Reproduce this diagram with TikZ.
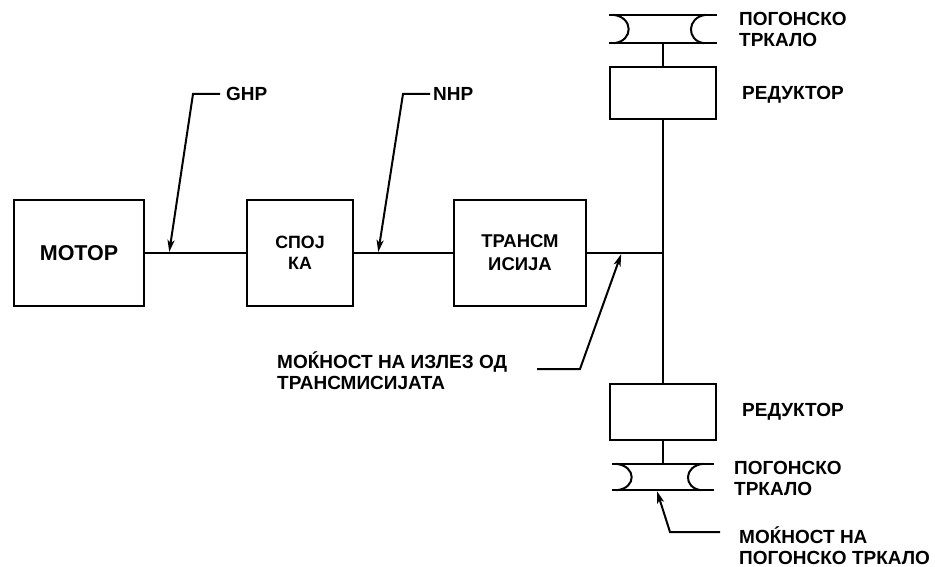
\documentclass[tikz,border=0pt]{standalone}
\usepackage{fontspec}
\setmainfont{Liberation Sans}
\usetikzlibrary{calc,arrows.meta}
\newcommand{\mypulley}[1]{%
  \draw[ln] (#1.north west) -- (#1.north east);
  \draw[ln] (#1.south west) -- (#1.south east);
  \draw[ln] ([xshift=4pt]#1.north west) .. controls ([xshift=25pt,yshift=-2pt]#1.north west) and ([xshift=25pt,yshift=2pt]#1.south west) .. ([xshift=5pt]#1.south west);
  \draw[ln] ([xshift=-11pt]#1.north east) .. controls ([xshift=-31pt,yshift=-2pt]#1.north east) and ([xshift=-31pt,yshift=2pt]#1.south east) .. ([xshift=-13pt]#1.south east);
}
\begin{document}
\begin{tikzpicture}[x=1pt,y=-1pt,
  ln/.style={line width=2pt},
  blk/.style={draw,line width=2pt,inner sep=0pt,align=center,font=\bfseries\fontsize{17.8}{21}\selectfont},
  lab/.style={anchor=west,align=left,inner sep=0pt,font=\bfseries\fontsize{19}{21}\selectfont},
  wheelnode/.style={inner sep=0pt,minimum width=108pt,minimum height=28pt},
  arr/.style={line width=2pt,-{Stealth[length=12pt,width=7pt,inset=3pt]}}]
\useasboundingbox (0,0) rectangle (935,567);
% blocks
\node[blk,minimum width=130pt,minimum height=106pt,font=\bfseries\fontsize{21.5}{24}\selectfont] (motor) at (79,253) {МОТОР};
\node[blk,minimum width=106pt,minimum height=106pt] (spojka) at (300,253) {СПОЈ\\КА};
\node[blk,minimum width=132pt,minimum height=106pt,font=\bfseries\fontsize{18.5}{23}\selectfont] (trans) at (520,253) {ТРАНСМ\\ИСИЈА};
\node[blk,minimum width=106pt,minimum height=52pt] (red1) at (663,93) {};
\node[blk,minimum width=106pt,minimum height=56pt] (red2) at (663,412) {};
\node[wheelnode] (w1) at (663,29) {};
\node[wheelnode,minimum width=102pt,minimum height=26pt] (w2) at (663,477) {};
\mypulley{w1}
\mypulley{w2}
\coordinate (J) at (663,253);
% shafts
\draw[ln] (motor.east) -- (spojka.west);
\draw[ln] (spojka.east) -- (trans.west);
\draw[ln] (trans.east) -- (J);
\draw[ln] (w1.south) -- (red1.north);
\draw[ln] (red1.south) -- (red2.north);
\draw[ln] (red2.south) -- (w2.north);
% labels
\node[lab] (ghp) at (226,94) {GHP};
\node[lab] (nhp) at (433,94) {NHP};
\node[lab] (lw1) at (739,29) {ПОГОНСКО\\ТРКАЛО};
\node[lab] (lr1) at (742,95) {РЕДУКТОР};
\node[lab] (lr2) at (742,412) {РЕДУКТОР};
\node[lab] (lw2) at (734,478) {ПОГОНСКО\\ТРКАЛО};
\node[lab] (lout) at (277,371) {МОЌНОСТ НА ИЗЛЕЗ ОД\\ТРАНСМИСИЈАТА};
\node[lab] (lwp) at (739,546) {МОЌНОСТ НА\\ПОГОНСКО ТРКАЛО};
% leader arrows
\coordinate (g1) at (220,94);
\coordinate (g2) at (193,94);
\coordinate (n1) at (430,94);
\coordinate (n2) at (403,94);
\coordinate (o1) at (537,369);
\coordinate (o2) at (580,369);
\coordinate (p1) at (720,532);
\coordinate (p2) at (670,532);
\draw[arr] (g1) -- (g2) -- ($(motor.east)!0.24!(spojka.west)+(0,-1)$);
\draw[arr] (n1) -- (n2) -- ($(spojka.east)!0.245!(trans.west)+(0,-1)$);
\draw[arr] (o1) -- (o2) -- ($(trans.east)!0.45!(J)+(0,1)$);
\draw[arr] (p1) -- (p2) -- ($(w2.south)+(-6,1)$);
\end{tikzpicture}
\end{document}
